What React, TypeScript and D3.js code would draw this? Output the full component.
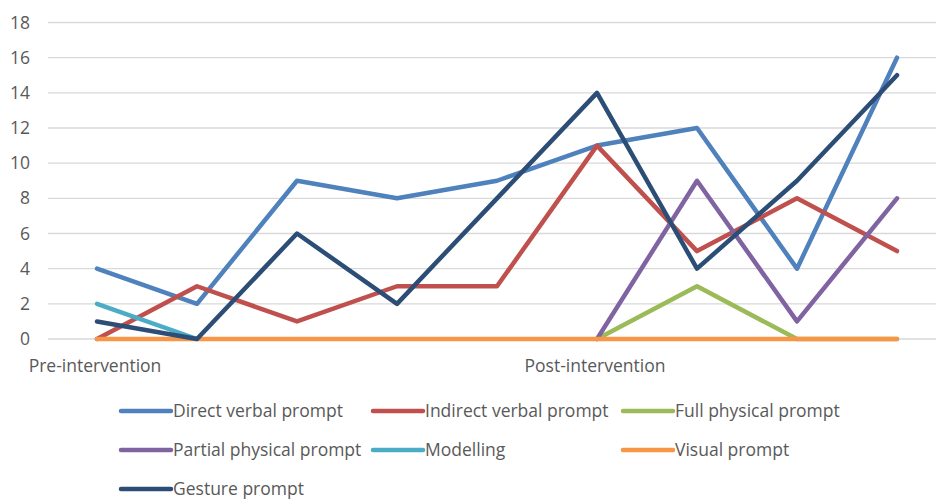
import React from "react";
import * as d3 from "d3";

const W = 936, H = 500;

const categories = ["Pre-intervention", "", "", "", "", "Post-intervention", "", "", ""];
const yTicks = [0, 2, 4, 6, 8, 10, 12, 14, 16, 18];

const seriesNames = [
  "Direct verbal prompt",
  "Indirect verbal prompt",
  "Full physical prompt",
  "Partial physical prompt",
  "Modelling",
  "Visual prompt",
  "Gesture prompt",
];
const colors = ["#4F81BD", "#C0504D", "#9BBB59", "#8064A2", "#4BACC6", "#F79646", "#2C4D75"];

const directVerbal = [4, 2, 9, 8, 9, 11, 12, 4, 16];
const indirectVerbal = [0, 3, 1, 3, 3, 11, 5, 8, 5];
const fullPhysical = [null, null, null, null, null, 0, 3, 0, 0];
const partialPhysical = [null, null, null, null, null, 0, 9, 1, 8];
const modelling = [2, 0, null, null, null, null, null, null, null];
const visualPrompt = [0, 0, 0, 0, 0, 0, 0, 0, 0];
const gesture = [1, 0, 6, 2, 8, 14, 4, 9, 15];

const allSeries = [directVerbal, indirectVerbal, fullPhysical, partialPhysical, modelling, visualPrompt, gesture];

const x = d3.scalePoint<number>().domain(d3.range(categories.length)).range([97, 897]);
const y = d3.scaleLinear().domain([0, 18]).range([339, 22.5]);

const font = "'Open Sans', sans-serif";
const fontSize = 17.5;
const textColor = "#595959";

export default function App() {
  const line = d3
    .line<number | null>()
    .defined((d) => d !== null)
    .x((_, i) => x(i) as number)
    .y((d) => y(d as number));

  // legend layout: 3 columns
  const legendCols = [121, 373, 623];
  const legendRows = [411, 450, 489];

  return (
    <svg width={W} height={H} style={{ position: "absolute", left: 0, top: 0, background: "#fff" }}>
      <g>
        {yTicks.map((t) => (
          <g key={t}>
            <line x1={48} x2={W} y1={y(t)} y2={y(t)} stroke="#d9d9d9" strokeWidth={1.3} />
            <text x={30} y={y(t)} dy="0.35em" textAnchor="end" fontFamily={font} fontSize={fontSize} fill={textColor}>
              {t}
            </text>
          </g>
        ))}
      </g>
      <g>
        {categories.map((c, i) =>
          c ? (
            <text key={i} x={(x(i) as number) - 2} y={372} textAnchor="middle" fontFamily={font} fontSize={fontSize} fill={textColor}>
              {c}
            </text>
          ) : null
        )}
      </g>
      <g fill="none" strokeWidth={4.5} strokeLinejoin="round" strokeLinecap="round">
        {allSeries.map((s, k) => (
          <path key={k} d={line(s) || ""} stroke={colors[k]} />
        ))}
      </g>
      <g>
        {seriesNames.map((n, k) => {
          const cx = legendCols[k % 3];
          const cy = legendRows[Math.floor(k / 3)];
          return (
            <g key={n} transform={`translate(${cx},${cy})`}>
              <line x1={0} x2={50} y1={0} y2={0} stroke={colors[k]} strokeWidth={4.5} strokeLinecap="round" />
              <text x={52} y={0} dy="0.35em" fontFamily={font} fontSize={fontSize} fill={textColor}>
                {n}
              </text>
            </g>
          );
        })}
      </g>
    </svg>
  );
}
